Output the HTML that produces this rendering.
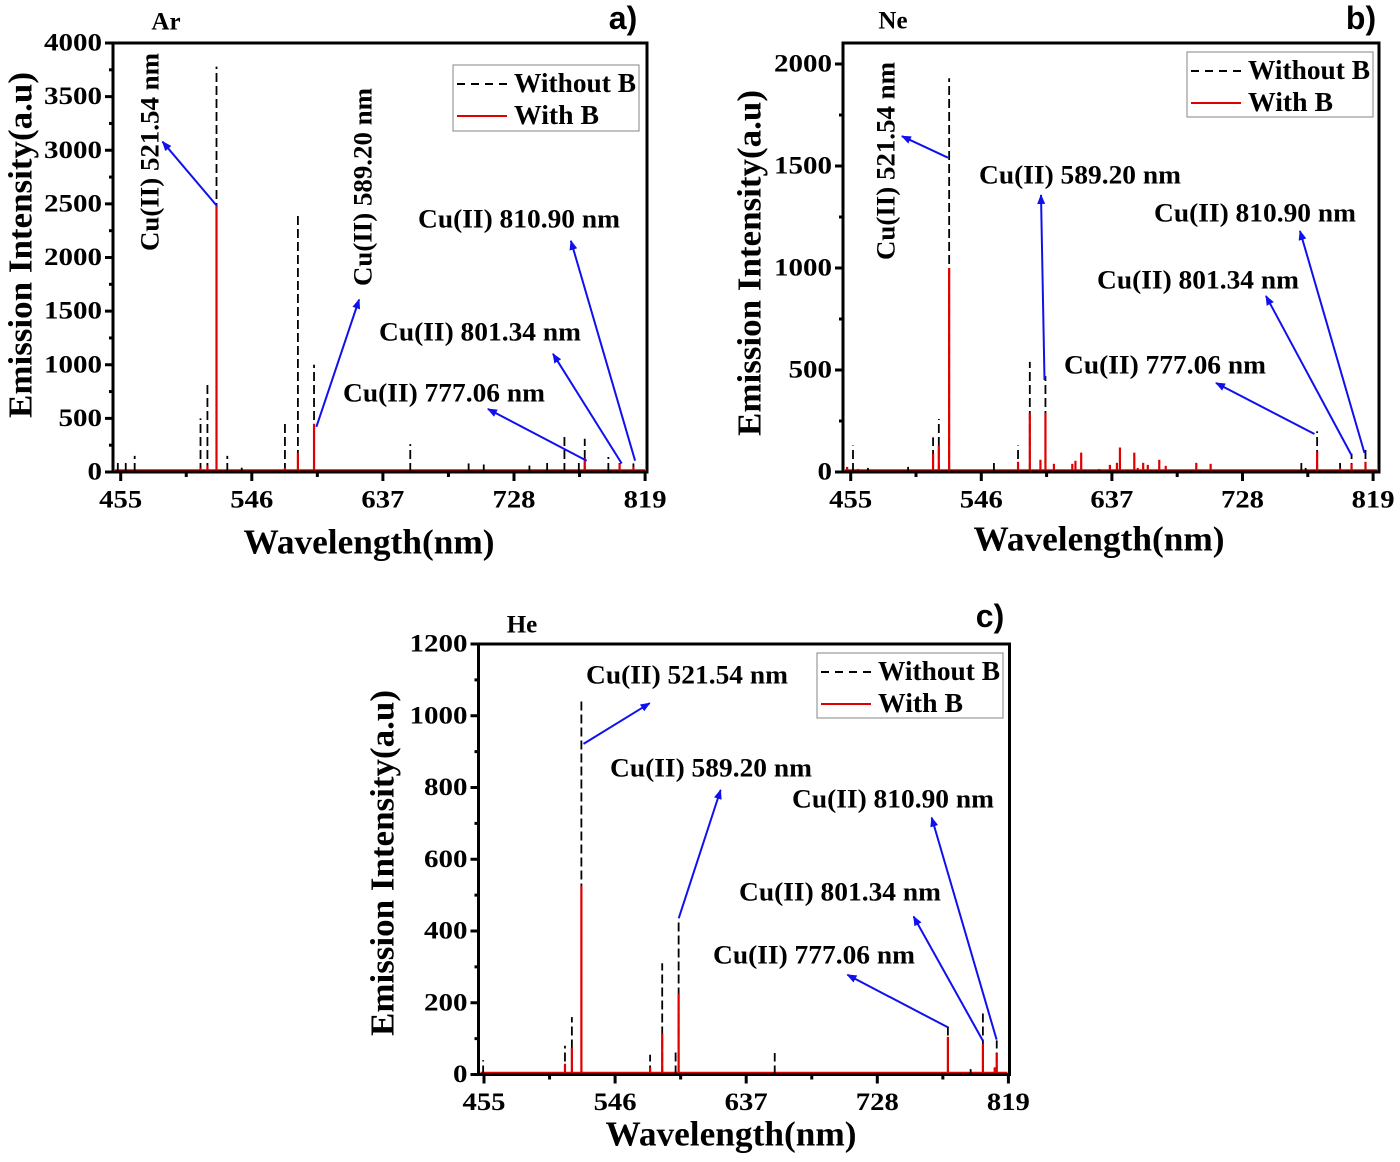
<!DOCTYPE html>
<html>
<head>
<meta charset="utf-8">
<style>
html,body{margin:0;padding:0;background:#fff;}
svg{display:block;}
text{font-family:"Liberation Serif",serif;font-weight:bold;fill:#000;}
</style>
</head>
<body>
<svg id="fig" width="1400" height="1162" viewBox="0 0 1400 1162" xmlns="http://www.w3.org/2000/svg">
<defs>
<marker id="ah" markerWidth="10" markerHeight="8" refX="9" refY="4" orient="auto" markerUnits="userSpaceOnUse">
<path d="M0,0 L10,4 L0,8 z" fill="#1010ee"/>
</marker>
</defs>
</svg>
<script>
// ---- Panel a (Ar) data ----
const arWavelengths = [453, 458.5, 464.7, 510.4, 515.2, 521.5, 529, 539, 569, 578, 589.2, 656, 696.5, 707, 738.7, 751, 763, 773, 777.1, 793.5, 801.3, 810.9];
const arWithoutB    = [85, 100, 150, 500, 830, 3780, 150, 40, 480, 2400, 1000, 260, 80, 70, 60, 120, 350, 100, 310, 140, 90, 80];
const arWithB       = [10, 0, 0, 40, 60, 2480, 10, 0, 40, 180, 450, 10, 0, 0, 0, 0, 0, 0, 130, 0, 80, 50];
const arYTicks = [0, 500, 1000, 1500, 2000, 2500, 3000, 3500, 4000];

// ---- Panel b (Ne) data ----
const neWavelengths = [452.5, 456.6, 460, 467, 495, 512.4, 516.4, 523.6, 554.8, 571.6, 579.8, 587.2, 590.7, 596.6, 609.4, 611.6, 615.6, 628, 635.6, 640.5, 642.6, 652.6, 655, 658.8, 662, 670, 674.5, 695.8, 705.8, 769, 772, 780, 796, 804, 813.7];
const neWithoutB    = [0, 130, 0, 20, 25, 170, 260, 1930, 60, 130, 540, 0, 470, 0, 0, 0, 0, 0, 0, 0, 0, 0, 0, 0, 0, 0, 0, 0, 0, 60, 20, 200, 50, 90, 110];
const neWithB       = [25, 0, 15, 0, 0, 90, 130, 1000, 0, 50, 290, 60, 290, 40, 40, 55, 95, 15, 35, 45, 120, 95, 20, 45, 35, 60, 30, 45, 40, 0, 0, 100, 20, 40, 50];
const neYTicks = [0, 500, 1000, 1500, 2000];

// ---- Panel c (He) data ----
const heWavelengths = [454.4, 511.2, 516, 522.6, 570.3, 578.7, 588, 590.1, 656.8, 777, 792.8, 801.3, 809.5, 810.9];
const heWithoutB    = [40, 80, 160, 1040, 55, 310, 65, 435, 60, 135, 15, 170, 0, 95];
const heWithB       = [0, 30, 75, 525, 20, 115, 0, 225, 0, 105, 0, 85, 20, 60];
const heYTicks = [0, 200, 400, 600, 800, 1000, 1200];

const xTickLabels = [455, 546, 637, 728, 819];

const NS = "http://www.w3.org/2000/svg";
const svg = document.getElementById('fig');
function mk(tag, attrs, parent) {
  const e = document.createElementNS(NS, tag);
  for (const k in attrs) e.setAttribute(k, attrs[k]);
  (parent || svg).appendChild(e);
  return e;
}
function txt(str, x, y, size, len, parent, extra) {
  const t = mk('text', Object.assign({x: x, y: y, 'font-size': size, 'dominant-baseline': 'central'}, extra || {}), parent);
  if (len) { t.setAttribute('textLength', len); t.setAttribute('lengthAdjust', 'spacingAndGlyphs'); }
  t.textContent = str;
  return t;
}

function drawPanel(cfg, wl, black, red, yTicks) {
  const g = mk('g', {});
  
  
  const xs = v => cfg.x455 + (v - 455) / 91 * cfg.pxPer91;
  const ys = v => cfg.bottom - v / cfg.yTopVal * (cfg.bottom - cfg.yTopPx);

  const base = mk('line', {x1: cfg.left + 2, x2: cfg.right - 2, y1: cfg.bottom - 1.5, y2: cfg.bottom - 1.5, stroke: '#e00000', 'stroke-width': 2.5}, g);
  
  

  for (let i = 0; i < wl.length; i++) {
    if (black[i] <= 0) continue;
    const l = mk('line', {x1: xs(wl[i]), x2: xs(wl[i]), y1: ys(0), y2: ys(black[i]), stroke: '#000', 'stroke-width': 1.8, 'stroke-dasharray': '9,4'}, g);
    
    
  }
  for (let i = 0; i < wl.length; i++) {
    if (red[i] <= 0) continue;
    const l = mk('line', {x1: xs(wl[i]), x2: xs(wl[i]), y1: ys(0), y2: ys(red[i]), stroke: '#e00000', 'stroke-width': 2.2}, g);
    
    
  }

  const fr = mk('rect', {x: cfg.left, y: cfg.top, width: cfg.right - cfg.left, height: cfg.bottom - cfg.top, fill: 'none', stroke: '#000', 'stroke-width': 3}, g);
  
  

  for (let i = 0; i < yTicks.length; i++) {
    const y = ys(yTicks[i]);
    mk('line', {x1: cfg.left - 8, x2: cfg.left, y1: y, y2: y, stroke: '#000', 'stroke-width': 3}, g);
    const s = String(yTicks[i]);
    const t = txt(s, cfg.left - 11, y, 25, s.length * 14.5, g, {'text-anchor': 'end'});
    
    
    if (i < yTicks.length - 1) {
      const ym = ys((yTicks[i] + yTicks[i + 1]) / 2);
      mk('line', {x1: cfg.left - 4, x2: cfg.left, y1: ym, y2: ym, stroke: '#000', 'stroke-width': 3}, g);
    }
  }
  for (let i = 0; i < xTickLabels.length; i++) {
    const x = xs(xTickLabels[i]);
    mk('line', {x1: x, x2: x, y1: cfg.bottom, y2: cfg.bottom + 9, stroke: '#000', 'stroke-width': 3}, g);
    const t = txt(String(xTickLabels[i]), x, cfg.bottom + 28, 25, 43, g, {'text-anchor': 'middle'});
    
    
    if (i < xTickLabels.length - 1) {
      const xm = xs(xTickLabels[i] + 45.5);
      mk('line', {x1: xm, x2: xm, y1: cfg.bottom, y2: cfg.bottom + 5, stroke: '#000', 'stroke-width': 3}, g);
    }
  }
  const xt = txt('Wavelength(nm)', cfg.xTitle[0], cfg.xTitle[1], 35, 251, g, {'text-anchor': 'middle'});
  
  
  const yt = txt('Emission Intensity(a.u)', 0, 0, 34, 346, g, {'text-anchor': 'middle', transform: 'translate(' + cfg.yTitle[0] + ',' + cfg.yTitle[1] + ') rotate(-90)'});
  
  

  const gl = txt(cfg.gas, cfg.gasPos[0], cfg.gasPos[1], 25, null, g, {'text-anchor': 'middle'});
  
  
  const pl = txt(cfg.letter, cfg.letterPos[0], cfg.letterPos[1], 32, null, g, {'text-anchor': 'middle', style: 'font-family:"Liberation Sans",sans-serif'});
  
  

  const lg = mk('g', {}, g);
  
  
  const L = cfg.legend;
  mk('rect', {x: L.x, y: L.y, width: L.w, height: L.h, fill: '#fff', stroke: '#999', 'stroke-width': 1.2}, lg);
  mk('line', {x1: L.x + 4, x2: L.x + 54, y1: L.y + 19, y2: L.y + 19, stroke: '#000', 'stroke-width': 2, 'stroke-dasharray': '8,6'}, lg);
  mk('line', {x1: L.x + 4, x2: L.x + 54, y1: L.y + 51, y2: L.y + 51, stroke: '#e00000', 'stroke-width': 2}, lg);
  const e1 = txt('Without B', L.x + 61, L.y + 18, 27, 122, lg);
  
  
  const e2 = txt('With B', L.x + 61, L.y + 50, 27, 85, lg);
  
  

  for (const a of cfg.annos) {
    let t;
    if (a.rot) {
      t = txt(a.text, 0, 0, 26, 198, g, {'text-anchor': 'middle', transform: 'translate(' + a.tx + ',' + a.ty + ') rotate(-90)'});
    } else {
      t = txt(a.text, a.tx, a.ty, 26, 202, g);
    }
    
    
    const ar = mk('line', {x1: a.a[0], y1: a.a[1], x2: a.a[2], y2: a.a[3], stroke: '#1010ee', 'stroke-width': 2, 'marker-end': 'url(#ah)'}, g);
    
    
  }
}

drawPanel({
  name: 'panel-a-argon', left: 113, right: 647, top: 43, bottom: 472,
  x455: 120.7, pxPer91: 131.1, yTopVal: 4000, yTopPx: 43,
  xTitle: [369, 542], yTitle: [21, 245], gas: 'Ar', gasPos: [166, 22], letter: 'a)', letterPos: [623, 18],
  legend: {x: 453, y: 65, w: 186, h: 66},
  annos: [
    {text: 'Cu(II) 521.54 nm', rot: true, tx: 150, ty: 152, a: [217, 206, 162.5, 141.7]},
    {text: 'Cu(II) 589.20 nm', rot: true, tx: 363, ty: 187, a: [316.4, 426.8, 359.1, 299.6]},
    {text: 'Cu(II) 810.90 nm', tx: 418, ty: 219, a: [635.1, 460.7, 570.9, 240.8]},
    {text: 'Cu(II) 801.34 nm', tx: 379, ty: 332, a: [621.7, 463.5, 553, 353.8]},
    {text: 'Cu(II) 777.06 nm', tx: 343, ty: 393, a: [586.7, 460.7, 487.9, 409]}
  ]
}, arWavelengths, arWithoutB, arWithB, arYTicks);

drawPanel({
  name: 'panel-b-neon', left: 843, right: 1379, top: 43, bottom: 472,
  x455: 850.7, pxPer91: 130.6, yTopVal: 2000, yTopPx: 64,
  xTitle: [1099, 539], yTitle: [750, 263], gas: 'Ne', gasPos: [893, 21], letter: 'b)', letterPos: [1361, 18],
  legend: {x: 1187, y: 52, w: 186, h: 65},
  annos: [
    {text: 'Cu(II) 521.54 nm', rot: true, tx: 886, ty: 161, a: [948, 157.7, 901.9, 136.2]},
    {text: 'Cu(II) 589.20 nm', tx: 979, ty: 175, a: [1044.5, 380, 1041, 195]},
    {text: 'Cu(II) 810.90 nm', tx: 1154, ty: 213, a: [1364.5, 453, 1300, 231]},
    {text: 'Cu(II) 801.34 nm', tx: 1097, ty: 280, a: [1351.4, 455, 1266, 296]},
    {text: 'Cu(II) 777.06 nm', tx: 1064, ty: 365, a: [1314.5, 434, 1216, 383]}
  ]
}, neWavelengths, neWithoutB, neWithB, neYTicks);

drawPanel({
  name: 'panel-c-helium', left: 478.5, right: 1009.5, top: 644, bottom: 1074.5,
  x455: 484, pxPer91: 131.1, yTopVal: 1200, yTopPx: 644,
  xTitle: [731, 1134], yTitle: [383, 863], gas: 'He', gasPos: [522, 625], letter: 'c)', letterPos: [990, 616],
  legend: {x: 817, y: 653, w: 186, h: 65},
  annos: [
    {text: 'Cu(II) 521.54 nm', tx: 586, ty: 675, a: [583.5, 743.9, 649.7, 703.2]},
    {text: 'Cu(II) 589.20 nm', tx: 610, ty: 768, a: [678.7, 918.3, 720.6, 790]},
    {text: 'Cu(II) 810.90 nm', tx: 792, ty: 799, a: [996.6, 1039.6, 931.7, 817.6]},
    {text: 'Cu(II) 801.34 nm', tx: 739, ty: 892, a: [982.8, 1040.6, 913.6, 916.5]},
    {text: 'Cu(II) 777.06 nm', tx: 713, ty: 955, a: [947.8, 1027.3, 847.4, 974.8]}
  ]
}, heWavelengths, heWithoutB, heWithB, heYTicks);
</script>
</body>
</html>
